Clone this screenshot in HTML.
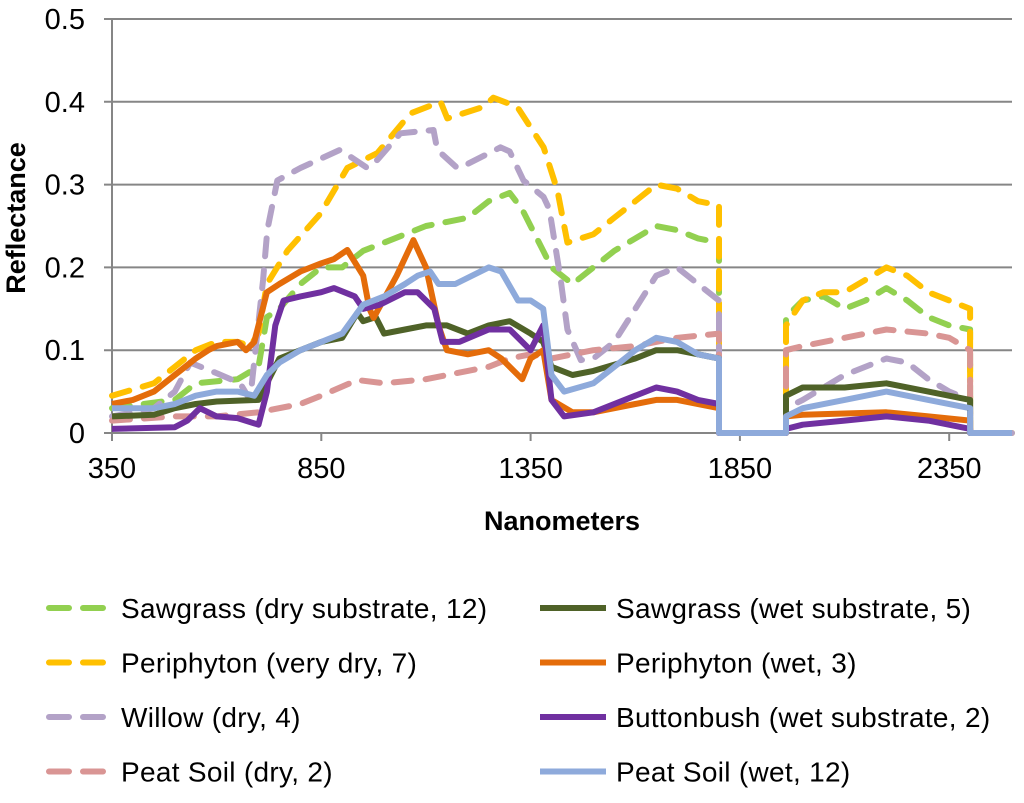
<!DOCTYPE html>
<html><head><meta charset="utf-8"><style>
body{margin:0;background:#fff;width:1024px;height:798px;overflow:hidden;font-family:"Liberation Sans",sans-serif}
svg text{font-family:"Liberation Sans",sans-serif;fill:#000}
</style></head><body>
<svg id="c" width="1024" height="798"></svg>
<script>
const xTicks=[350,850,1350,1850,2350];
const yTicks=[0,0.1,0.2,0.3,0.4,0.5];
const gapStart=1800, gapEnd=1960, tailStart=2400;
const sawDryA=[[350,0.03],[500,0.04],[550,0.06],[650,0.065],[700,0.08],[720,0.14],[750,0.15],[800,0.18],[850,0.2],[900,0.2],[950,0.22],[1000,0.23],[1100,0.25],[1150,0.255],[1200,0.26],[1250,0.28],[1300,0.29],[1330,0.27],[1350,0.25],[1380,0.22],[1400,0.2],[1450,0.18],[1500,0.2],[1550,0.22],[1600,0.235],[1650,0.25],[1700,0.245],[1750,0.235],[1800,0.23]];
const sawDryB=[[1960,0.14],[2000,0.16],[2050,0.165],[2100,0.15],[2150,0.16],[2200,0.175],[2250,0.16],[2300,0.14],[2350,0.13],[2400,0.125]];
const periDryA=[[350,0.045],[450,0.06],[500,0.08],[550,0.1],[600,0.11],[650,0.11],[680,0.105],[700,0.12],[720,0.18],[769,0.22],[848,0.265],[912,0.32],[984,0.338],[1063,0.386],[1135,0.4],[1151,0.38],[1238,0.394],[1261,0.405],[1318,0.394],[1381,0.345],[1414,0.293],[1438,0.23],[1500,0.24],[1550,0.26],[1600,0.28],[1650,0.3],[1700,0.295],[1750,0.28],[1800,0.275]];
const periDryB=[[1960,0.13],[2000,0.16],[2050,0.17],[2100,0.17],[2150,0.185],[2200,0.2],[2250,0.19],[2300,0.17],[2350,0.16],[2400,0.15]];
const willowA=[[350,0.02],[450,0.03],[500,0.05],[537,0.085],[601,0.072],[656,0.06],[680,0.04],[711,0.185],[721,0.245],[745,0.305],[800,0.32],[895,0.342],[960,0.32],[984,0.33],[1039,0.362],[1118,0.366],[1127,0.342],[1175,0.32],[1200,0.325],[1278,0.345],[1300,0.34],[1333,0.305],[1381,0.285],[1395,0.27],[1422,0.185],[1438,0.125],[1470,0.088],[1500,0.09],[1550,0.11],[1600,0.15],[1650,0.19],[1700,0.2],[1750,0.18],[1800,0.16]];
const willowB=[[1960,0.03],[2000,0.04],[2100,0.07],[2200,0.09],[2250,0.085],[2300,0.065],[2350,0.05],[2400,0.04]];
const peatDryA=[[350,0.015],[500,0.02],[600,0.02],[700,0.025],[800,0.035],[850,0.045],[936,0.064],[1000,0.06],[1100,0.065],[1200,0.075],[1250,0.08],[1300,0.09],[1350,0.095],[1400,0.09],[1500,0.1],[1600,0.105],[1700,0.115],[1800,0.12]];
const peatDryB=[[1960,0.1],[2000,0.105],[2100,0.115],[2200,0.125],[2300,0.12],[2350,0.115],[2400,0.1]];
const sawWetA=[[350,0.02],[450,0.022],[500,0.03],[550,0.035],[600,0.038],[700,0.04],[720,0.06],[750,0.09],[800,0.1],[850,0.11],[900,0.115],[936,0.145],[950,0.135],[980,0.14],[1000,0.12],[1050,0.125],[1100,0.13],[1150,0.13],[1200,0.12],[1250,0.13],[1300,0.135],[1350,0.12],[1380,0.11],[1400,0.08],[1450,0.07],[1500,0.075],[1600,0.09],[1650,0.1],[1700,0.1],[1750,0.095],[1800,0.09]];
const sawWetB=[[1960,0.045],[2000,0.055],[2100,0.055],[2200,0.06],[2300,0.05],[2400,0.04]];
const periWetA=[[350,0.035],[400,0.04],[450,0.05],[500,0.07],[550,0.09],[580,0.1],[600,0.105],[650,0.11],[670,0.1],[690,0.11],[720,0.17],[750,0.18],[800,0.195],[850,0.205],[880,0.21],[912,0.221],[950,0.19],[965,0.15],[975,0.139],[1030,0.19],[1070,0.233],[1100,0.2],[1130,0.13],[1150,0.1],[1200,0.095],[1250,0.1],[1280,0.09],[1330,0.065],[1350,0.09],[1380,0.1],[1400,0.04],[1450,0.025],[1500,0.025],[1600,0.035],[1650,0.04],[1700,0.04],[1750,0.035],[1800,0.03]];
const periWetB=[[1960,0.02],[2000,0.022],[2200,0.025],[2300,0.02],[2400,0.015]];
const buttonA=[[350,0.005],[500,0.007],[530,0.015],[560,0.03],[600,0.02],[650,0.018],[700,0.01],[720,0.05],[740,0.13],[760,0.16],[800,0.165],[850,0.17],[880,0.175],[930,0.165],[950,0.15],[990,0.155],[1050,0.17],[1080,0.17],[1120,0.15],[1140,0.11],[1180,0.11],[1250,0.125],[1300,0.125],[1330,0.11],[1350,0.1],[1380,0.13],[1400,0.04],[1430,0.02],[1500,0.025],[1600,0.045],[1650,0.055],[1700,0.05],[1750,0.04],[1800,0.035]];
const buttonB=[[1960,0.005],[2000,0.01],[2100,0.015],[2200,0.02],[2300,0.015],[2400,0.005]];
const peatWetA=[[350,0.03],[450,0.03],[500,0.035],[550,0.045],[600,0.05],[650,0.05],[690,0.045],[720,0.07],[750,0.085],[800,0.1],[850,0.11],[900,0.12],[950,0.155],[1000,0.165],[1050,0.18],[1080,0.19],[1110,0.195],[1130,0.18],[1170,0.18],[1250,0.2],[1280,0.195],[1320,0.16],[1350,0.16],[1380,0.15],[1400,0.07],[1430,0.05],[1500,0.06],[1600,0.1],[1650,0.115],[1700,0.11],[1750,0.095],[1800,0.09]];
const peatWetB=[[1960,0.02],[2000,0.03],[2100,0.04],[2200,0.05],[2300,0.04],[2400,0.03]];

const series=[
 {name:"Sawgrass (dry substrate, 12)",a:sawDryA,b:sawDryB,color:"#92d050",dash:true,key:"sawgrass-dry"},
 {name:"Periphyton (very dry, 7)",a:periDryA,b:periDryB,color:"#ffc000",dash:true,key:"periphyton-very-dry"},
 {name:"Willow (dry, 4)",a:willowA,b:willowB,color:"#b3a2c7",dash:true,key:"willow-dry"},
 {name:"Peat Soil (dry, 2)",a:peatDryA,b:peatDryB,color:"#d99594",dash:true,key:"peat-soil-dry"},
 {name:"Sawgrass (wet substrate, 5)",a:sawWetA,b:sawWetB,color:"#4f6228",dash:false,key:"sawgrass-wet"},
 {name:"Periphyton (wet, 3)",a:periWetA,b:periWetB,color:"#e46c0a",dash:false,key:"periphyton-wet"},
 {name:"Buttonbush (wet substrate, 2)",a:buttonA,b:buttonB,color:"#7030a0",dash:false,key:"buttonbush-wet"},
 {name:"Peat Soil (wet, 12)",a:peatWetA,b:peatWetB,color:"#8eaadb",dash:false,key:"peat-soil-wet"}
];
const NS="http://www.w3.org/2000/svg";
const svg=document.getElementById('c');
const X0=112,X1=1012,Y0=433,Y1=19,xmin=350,xmax=2500,ymax=0.5;
const FS=29, LFS=28;
const sx=v=>X0+(v-xmin)/(xmax-xmin)*(X1-X0);
const sy=v=>Y0-v/ymax*(Y0-Y1);
function el(t,at,p){const e=document.createElementNS(NS,t);for(const k in at)e.setAttribute(k,at[k]);(p||svg).appendChild(e);return e;}
yTicks.forEach(t=>{
 const g=el('line',{x1:X0-8,x2:X1,y1:sy(t),y2:sy(t),stroke:'#868686','stroke-width':2});
 
 
 const tx=el('text',{x:85,y:sy(t)+10,'text-anchor':'end','font-size':FS});
 tx.textContent=t===0?'0':String(t);
 
 
});
const ya=el('line',{x1:X0,x2:X0,y1:Y1,y2:Y0+8,stroke:'#868686','stroke-width':2});


xTicks.forEach(t=>{
 const m=el('line',{x1:sx(t),x2:sx(t),y1:Y0,y2:Y0+8,stroke:'#868686','stroke-width':2});
 
 
 const tx=el('text',{x:sx(t),y:478,'text-anchor':'middle','font-size':FS});
 tx.textContent=t;
 
 
});
const yt=el('text',{x:0,y:0,transform:'translate(25,218) rotate(-90)','text-anchor':'middle','font-size':27,'font-weight':'bold'});
yt.textContent='Reflectance';


const xt=el('text',{x:562,y:530,'text-anchor':'middle','font-size':27,'font-weight':'bold'});
xt.textContent='Nanometers';


series.forEach((s,i)=>{
 const pts=[];
 s.a.forEach(p=>pts.push([p[0],p[1]]));
 pts.push([gapStart,0]);pts.push([gapEnd,0]);
 s.b.forEach(p=>pts.push([p[0],p[1]]));
 pts.push([tailStart,0]);pts.push([xmax,0]);
 const d=pts.map((p,j)=>(j?'L':'M')+sx(p[0]).toFixed(1)+','+sy(p[1]).toFixed(1)).join('');
 const at={d:d,fill:'none',stroke:s.color,'stroke-width':6,'stroke-linejoin':'round','stroke-linecap':s.dash?'round':'butt'};
 if(s.dash)at['stroke-dasharray']='18 14';
 const path=el('path',at);
 
 
 const col=i<4?0:1,row=i%4;
 const lx=col?540:45,ly=608+row*54.5;
 const sw=el('line',{x1:lx+(s.dash?4:0),x2:lx+66,y1:ly,y2:ly,stroke:s.color,'stroke-width':6,'stroke-dasharray':s.dash?'20 14':'none','stroke-linecap':s.dash?'round':'butt'});
 
 
 const lt=el('text',{x:lx+76,y:ly+10,'font-size':LFS,'letter-spacing':'0.3'});
 lt.textContent=s.name;
 
 
});
</script>
</body></html>
